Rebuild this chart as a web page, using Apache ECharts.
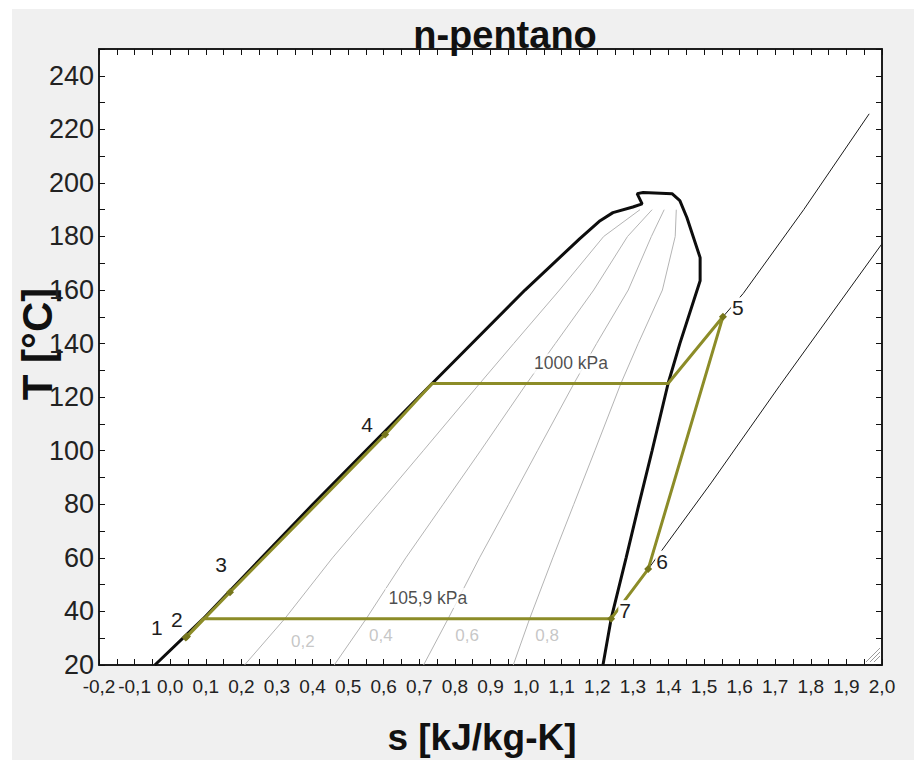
<!DOCTYPE html>
<html>
<head>
<meta charset="utf-8">
<title>n-pentano T-s</title>
<script src="https://cdn.jsdelivr.net/npm/echarts@6/dist/echarts.min.js"></script>
<style>
  html, body { margin: 0; padding: 0; background: #ffffff; }
  #chart { width: 914px; height: 760px; }
</style>
</head>
<body>
<div id="chart"></div>
<script>
// Saturation dome of n-pentane (liquid branch up to the critical region, then vapour branch down)
const domeS = [-0.043, 0.093, 0.401, 0.736, 0.997, 1.151, 1.208, 1.244, 1.300, 1.326, 1.312, 1.329, 1.410, 1.432, 1.452, 1.489, 1.489, 1.432, 1.399, 1.354, 1.317, 1.281, 1.239, 1.216];
const domeT = [20.0, 37.3, 80.0, 125.1, 160.0, 179.2, 185.9, 188.9, 191.0, 192.2, 196.0, 196.4, 196.0, 193.4, 187.0, 172.1, 163.5, 140.0, 125.1, 100.0, 80.0, 60.0, 37.3, 20.0];

// Constant-quality lines inside the dome
const qualityT = [20, 37.3, 60, 80, 100, 125, 140, 160, 180, 190];
const q02S = [0.209, 0.322, 0.456, 0.584, 0.711, 0.869, 0.965, 1.094, 1.218, 1.320];
const q04S = [0.461, 0.551, 0.662, 0.767, 0.872, 1.001, 1.082, 1.190, 1.285, 1.354];
const q06S = [0.712, 0.781, 0.869, 0.951, 1.032, 1.134, 1.198, 1.287, 1.352, 1.388];
const q08S = [0.964, 1.010, 1.075, 1.134, 1.193, 1.266, 1.315, 1.383, 1.419, 1.422];
const qualityLabels = ['0,2', '0,4', '0,6', '0,8'];
const qualityLabelS = [0.373, 0.592, 0.834, 1.059];
const qualityLabelT = [28.6, 31.2, 31.2, 31.2];

// Isobars: 1000 kPa and 105,9 kPa
const hiPS = [1.399, 1.553, 1.610, 1.780, 1.964];
const hiPT = [125.1, 150.0, 158.7, 190.0, 225.8];
const loPS = [1.239, 1.343, 1.520, 1.713, 2.000];
const loPT = [37.3, 55.8, 88.0, 124.4, 177.3];
const isobarLabels = ['1000 kPa', '105,9 kPa'];
const isobarLabelS = [1.126, 0.724];
const isobarLabelT = [132.6, 45.0];

// Cycle state points 1..7
const stateNames = ['1', '2', '3', '4', '5', '6', '7'];
const stateS = [0.044, 0.047, 0.168, 0.604, 1.553, 1.343, 1.239];
const stateT = [30.3, 30.6, 47.2, 106.1, 150.0, 55.8, 37.3];
// Saturation corners of the cycle path: liquid/vapour at 1000 kPa, liquid at 105,9 kPa
const cornerS = [0.736, 1.399, 0.093];
const cornerT = [125.1, 125.1, 37.3];

// Axis ranges
const sMin = -0.2, sMax = 2.0, sStep = 0.1;
const tMin = 20, tMax = 250, tStep = 20;

const pairs = (xs, ys) => xs.map((x, i) => [x, ys[i]]);
const comma = v => v.toFixed(1).replace('.', ',');

const labelOffsets = [[-29, -10], [-10, -17], [-9, -28], [-18, -10], [15, -9], [14, -8], [14, -8]];

const st = i => [stateS[i], stateT[i]];
const cn = i => [cornerS[i], cornerT[i]];
const statePoint = i => ({
  value: st(i),
  symbol: 'diamond',
  symbolSize: 8,
  label: {
    show: true,
    formatter: stateNames[i],
    position: 'inside',
    offset: labelOffsets[i],
    fontSize: 21,
    color: '#1e1e1e',
    backgroundColor: '#ffffff',
    padding: [0, 1]
  }
});
const corner = i => ({ value: cn(i), symbol: 'none' });
const cyclePath = [
  statePoint(0), statePoint(1), statePoint(2), statePoint(3),
  corner(0), corner(1), statePoint(4), statePoint(5), statePoint(6),
  corner(2), { value: st(0), symbol: 'none' }
];

const FONT = "'Liberation Sans', Arial, sans-serif";
const thinLine = (data, color, width, z) => ({
  type: 'line', data, showSymbol: false, symbol: 'none', silent: true, z,
  lineStyle: { color, width }, animation: false
});
const textMarks = (names, xs, ys, label) => ({
  type: 'scatter', z: 6, silent: true, animation: false,
  symbol: 'circle', symbolSize: 1, itemStyle: { color: 'rgba(0,0,0,0)' },
  data: names.map((t, i) => ({ value: [xs[i], ys[i]], name: t })),
  label: Object.assign({ show: true, position: 'inside', formatter: p => p.name }, label)
});
const edgeAxis = { show: true, onZero: false, lineStyle: { color: '#111', width: 1.5 } };
const ticks = { show: true, inside: true, length: 6, lineStyle: { color: '#111' } };
const minor = { show: true, splitNumber: 2, length: 6, lineStyle: { color: '#111' } };

const chart = echarts.init(document.getElementById('chart'), null, { renderer: 'svg' });

chart.setOption({
  backgroundColor: '#f0f0f0',
  animation: false,
  textStyle: { fontFamily: FONT },
  title: {
    text: 'n-pentano',
    left: 500, top: 11, textAlign: 'center',
    textStyle: { fontFamily: FONT, fontSize: 38, fontWeight: 'bold', color: '#111' }
  },
  grid: {
    left: 99, right: 32, top: 49, bottom: 95,
    show: true, backgroundColor: '#ffffff', borderColor: '#111', borderWidth: 1.5
  },
  xAxis: [{
    type: 'value', min: sMin, max: sMax, interval: sStep,
    axisLine: edgeAxis, axisTick: ticks, minorTick: minor,
    axisLabel: { formatter: comma, fontSize: 19, color: '#222', margin: 12 },
    splitLine: { show: false }
  }, {
    type: 'value', position: 'top', min: sMin, max: sMax, interval: sStep,
    axisLine: edgeAxis, axisTick: ticks, minorTick: minor,
    axisLabel: { show: false }, splitLine: { show: false }
  }],
  yAxis: [{
    type: 'value', min: tMin, max: tMax, interval: tStep,
    axisLine: edgeAxis, axisTick: ticks, minorTick: minor,
    axisLabel: {
      formatter: v => (v > tMax - 5 ? '' : String(v)),
      fontSize: 27, color: '#222', margin: 5
    },
    splitLine: { show: false }
  }, {
    type: 'value', position: 'right', min: tMin, max: tMax, interval: tStep,
    axisLine: edgeAxis, axisTick: ticks, minorTick: minor,
    axisLabel: { show: false }, splitLine: { show: false }
  }],
  series: [
    thinLine(pairs(q02S, qualityT), '#b4b4b4', 1, 1),
    thinLine(pairs(q04S, qualityT), '#b4b4b4', 1, 1),
    thinLine(pairs(q06S, qualityT), '#b4b4b4', 1, 1),
    thinLine(pairs(q08S, qualityT), '#b4b4b4', 1, 1),
    thinLine(pairs(hiPS, hiPT), '#1a1a1a', 1, 2),
    thinLine(pairs(loPS, loPT), '#1a1a1a', 1, 2),
    thinLine(pairs(domeS, domeT), '#0d0d0d', 3, 3),
    {
      type: 'line', data: cyclePath, z: 5, animation: false,
      lineStyle: { color: '#8c8c28', width: 3 },
      itemStyle: { color: '#76761c' },
      showAllSymbol: true
    },
    textMarks(qualityLabels, qualityLabelS, qualityLabelT, { fontSize: 17, color: '#b8b8b8' }),
    textMarks(isobarLabels, isobarLabelS, isobarLabelT, {
      fontSize: 17.5, color: '#1e1e1e', backgroundColor: '#ffffff', padding: [1, 3]
    })
  ],
  graphic: [
    { type: 'rect', silent: true, z: -10, shape: { x: 0, y: 0, width: 914, height: 9 }, style: { fill: '#ffffff' } },
    { type: 'rect', silent: true, z: -10, shape: { x: 0, y: 0, width: 12, height: 760 }, style: { fill: '#ffffff' } },
    {
      type: 'text', silent: true, x: 482, y: 737,
      style: { text: 's [kJ/kg-K]', font: "bold 37px 'Liberation Sans', Arial, sans-serif", fill: '#111', align: 'center', verticalAlign: 'middle' }
    },
    {
      type: 'text', silent: true, x: 37, y: 344, rotation: Math.PI / 2,
      style: { text: 'T [°C]', font: "bold 42px 'Liberation Sans', Arial, sans-serif", fill: '#111', align: 'center', verticalAlign: 'middle' }
    },
    // resize grip in the lower right corner
    { type: 'line', silent: true, z: 20, shape: { x1: 870, y1: 662, x2: 880, y2: 652 }, style: { stroke: '#9a9a9a', lineWidth: 1 } },
    { type: 'line', silent: true, z: 20, shape: { x1: 874, y1: 662, x2: 880, y2: 656 }, style: { stroke: '#9a9a9a', lineWidth: 1 } },
    { type: 'line', silent: true, z: 20, shape: { x1: 866, y1: 662, x2: 880, y2: 648 }, style: { stroke: '#9a9a9a', lineWidth: 1 } }
  ]
});
</script>
</body>
</html>
